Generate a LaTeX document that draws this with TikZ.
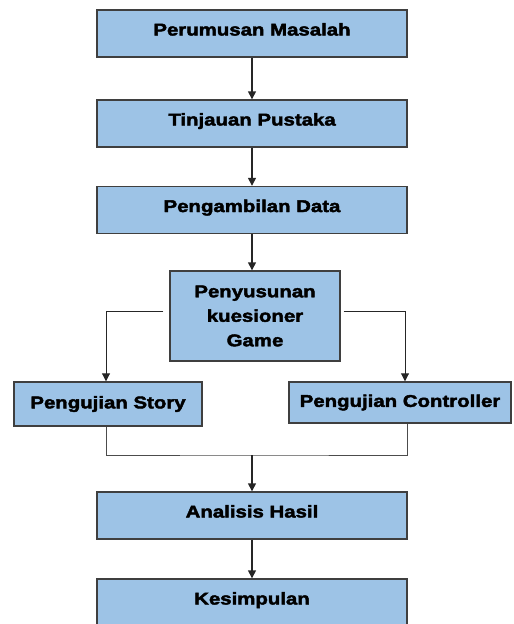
\documentclass[tikz,border=0pt]{standalone}
\usepackage{fontspec}
\setmainfont{Liberation Sans}[FakeStretch=1.2, BoldFeatures={FakeBold=2.5}]
\usepackage{xcolor}
\usepackage{tikz}
\usetikzlibrary{arrows.meta,positioning,calc}

\definecolor{boxblue}{HTML}{9DC3E6}
\definecolor{boxline}{HTML}{3F3F3F}

\begin{document}
\begin{tikzpicture}[x=1pt, y=-1pt,
    stepbox/.style={draw=boxline, line width=1.4pt, fill=boxblue, minimum width=#1,
                    minimum height=47pt, inner sep=0pt, text height=12pt, text depth=8pt,
                    font=\fontsize{17}{24.5}\selectfont\bfseries},
    stepbox/.default=310pt,
    testbox/.style={draw=boxline, line width=1.4pt, fill=boxblue, minimum width=#1,
                    minimum height=44pt, inner sep=0pt,
                    font=\fontsize{17}{24.5}\selectfont\bfseries},
    multibox/.style={draw=boxline, line width=1.4pt, fill=boxblue, minimum width=170pt,
                     minimum height=90pt, inner sep=0pt, align=center,
                     font=\fontsize{17}{24.5}\selectfont\bfseries},
    flow/.style={-{Triangle[length=8pt, width=8pt]}, line width=1.4pt, color=black!85},
    mergeline/.style={line width=0.8pt, color=black!70}
]
\useasboundingbox (0,0) rectangle (514,624);

%% Main steps
\node[stepbox] (rumusan) at (252, 33.5) {Perumusan Masalah};
\node[stepbox] (tinjauan) at (252, 123.5) {Tinjauan Pustaka};
\node[stepbox] (pengambilan) at (252, 210) {Pengambilan Data};
\node[multibox] (kuesioner) at (255, 316) {Penyusunan\\kuesioner\\Game};

%% Testing
\node[testbox=188pt] (story) at (108, 404) {Pengujian Story};
\node[testbox=222pt, minimum height=41pt] (controller) at (400, 402.5) {Pengujian Controller};

%% Results
\node[stepbox] (analisis) at (252, 515.5) {Analisis Hasil};
\node[stepbox] (kesimpulan) at (252, 602.5) {Kesimpulan};

%% Arrows
\draw[flow] (rumusan) -- (tinjauan);
\draw[flow] (tinjauan) -- (pengambilan);
\draw[flow] (pengambilan) -- (pengambilan |- kuesioner.north);
\draw[flow, line width=0.9pt, shorten <=6pt] ([yshift=5pt]kuesioner.west) -| ([xshift=-2pt]story.north);
\draw[flow, line width=0.9pt, shorten <=3pt] ([yshift=5pt]kuesioner.east) -| ([xshift=5pt]controller.north);

%% Merge of both tests
\coordinate (gabung) at (252, 455);
\draw[mergeline] ([xshift=-2pt]story.south) |- (gabung) -| ([xshift=7pt]controller.south);
\draw[flow] (gabung) -- (analisis);
\draw[flow] (analisis) -- (kesimpulan);

\end{tikzpicture}
\end{document}
